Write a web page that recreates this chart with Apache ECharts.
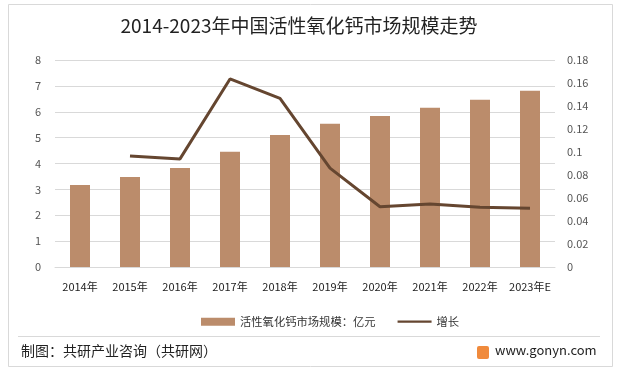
<!DOCTYPE html>
<html><head><meta charset="utf-8">
<script src="https://cdn.jsdelivr.net/npm/echarts@6/dist/echarts.min.js"></script>
<style>html,body{margin:0;padding:0;background:#fff;}#c{width:621px;height:372px;}</style>
</head><body><div id="c"></div>
<script>
var categories = ['2014年','2015年','2016年','2017年','2018年','2019年','2020年','2021年','2022年','2023年E'];
var marketSize = [3.17, 3.48, 3.83, 4.45, 5.1, 5.54, 5.84, 6.15, 6.46, 6.81];
var growth = [null, 0.0965, 0.094, 0.1635, 0.1467, 0.086, 0.0524, 0.0548, 0.052, 0.051];
var leftTicks = [0,1,2,3,4,5,6,7,8];
var rightTicks = [0,0.02,0.04,0.06,0.08,0.1,0.12,0.14,0.16,0.18];

var FONT = '"Noto Sans CJK SC", "Noto Sans", sans-serif';
var chart = echarts.init(document.getElementById('c'), null, {renderer:'canvas'});
chart.setOption({
  backgroundColor: '#fff',
  animation: false,
  title: {
    text: '2014-2023年中国活性氧化钙市场规模走势',
    left: 294, top: 11, textAlign: 'center',
    textStyle: {fontFamily: FONT, fontSize: 19, fontWeight: 'normal', color: '#222'}
  },
  grid: {left: 55, right: 66, top: 60, bottom: 105, containLabel: false},
  legend: {
    top: 311, left: 196,
    itemWidth: 34, itemHeight: 8, itemGap: 22,
    textStyle: {fontFamily: FONT, fontSize: 11.3, color: '#333'},
    data: [
      {name: '活性氧化钙市场规模：亿元', icon: 'rect'},
      {name: '增长', icon: 'path://M0,4L34,4L34,6.4L0,6.4Z'}
    ]
  },
  xAxis: {
    type: 'category', data: categories,
    axisLine: {show: true, lineStyle: {color: '#d9d9d9'}},
    axisTick: {show: false},
    axisLabel: {fontFamily: FONT, fontSize: 11, color: '#222', margin: 14, interval: 0}
  },
  yAxis: [
    {type: 'value', min: 0, max: 8, interval: 1,
     axisLine: {show: false}, axisTick: {show: false},
     axisLabel: {fontFamily: FONT, fontSize: 11, color: '#555', margin: 14, formatter: function(v){return leftTicks.indexOf(v)>=0?String(v):'';}},
     splitLine: {lineStyle: {color: '#d9d9d9', width: 1}}},
    {type: 'value', min: 0, max: 0.18, interval: 0.02,
     axisLine: {show: false}, axisTick: {show: false},
     axisLabel: {fontFamily: FONT, fontSize: 11, color: '#555', margin: 12,
       formatter: function(v){ var r = Math.round(v*100)/100; return String(r); }},
     splitLine: {show: false}}
  ],
  series: [
    {name: '活性氧化钙市场规模：亿元', type: 'bar', data: marketSize, barWidth: 20,
     itemStyle: {color: '#BB8C6B'}},
    {name: '增长', type: 'line', yAxisIndex: 1, data: growth, symbol: 'none',
     lineStyle: {color: '#654630', width: 3}, itemStyle: {color: '#654630'}}
  ],
  graphic: [
    {type: 'rect', shape: {x: 8.5, y: 4.5, width: 604, height: 362}, style: {fill: 'none', stroke: '#d9d9d9', lineWidth: 1}, silent: true},
    {type: 'line', shape: {x1: 18, y1: 336.5, x2: 600, y2: 336.5}, style: {stroke: '#d9d9d9', lineWidth: 1}},
    {type: 'text', left: 21, top: 344, style: {text: '制图：共研产业咨询（共研网）', font: '14px ' + FONT, fill: '#222'}},
    {type: 'rect', shape: {x: 477, y: 346, width: 12, height: 13, r: 2}, style: {fill: '#F08A3C'}},
    {type: 'text', left: 495, top: 344, style: {text: 'www.gonyn.com', font: '13px ' + FONT, fill: '#222'}}
  ]
});
</script></body></html>
